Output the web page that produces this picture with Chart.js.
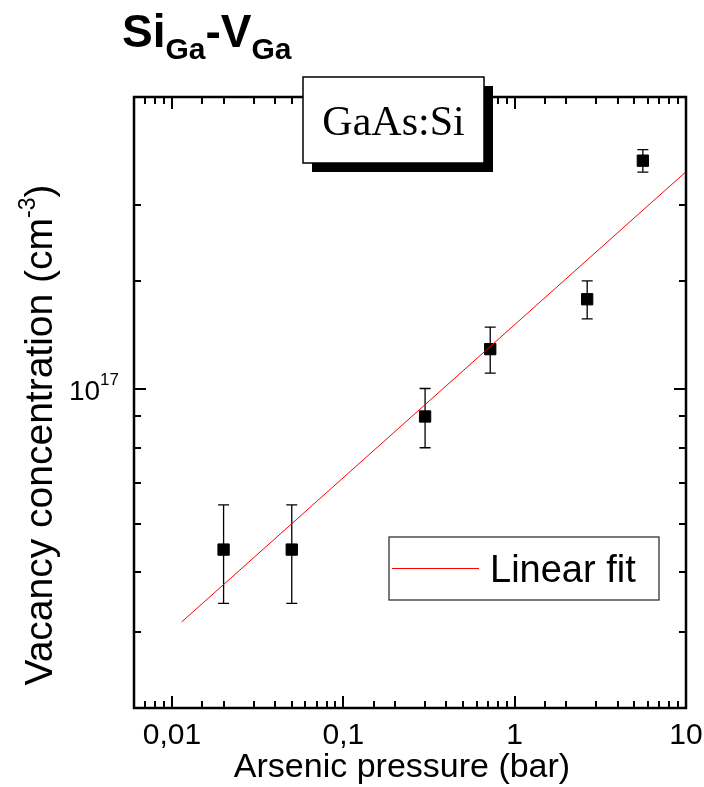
<!DOCTYPE html>
<html>
<head>
<meta charset="utf-8">
<title>SiGa-VGa</title>
<script src="https://cdn.jsdelivr.net/npm/chart.js@4.4.1/dist/chart.umd.min.js"></script>
<style>
  html, body { margin: 0; padding: 0; background: #fff; }
  canvas { display: block; }
</style>
</head>
<body>
<canvas id="vacancyChart" width="704" height="787"></canvas>
<script>
// measured points: arsenic pressure (bar) vs vacancy concentration (cm^-3)
const pressure = [0.02, 0.05, 0.3, 0.72, 2.65, 5.6];
const vacancies = [5.45e16, 5.45e16, 9.0e16, 1.16e17, 1.40e17, 2.36e17];
const vacancyErr = [1.0e16, 1.0e16, 1.0e16, 1.0e16, 1.0e16, 1.0e16];

// linear fit (straight line on log-log axes), end points
const fitPressure = [0.0114, 10];
const fitVacancies = [4.15e16, 2.264e17];

// axis ranges and labelled ticks
const xRange = [0.006, 10];
const yRange = [3e16, 3e17];
const xTickValues = [0.01, 0.1, 1, 10];
const xTickLabels = ['0,01', '0,1', '1', '10'];
const yTickValues = [1e17];
const yTickBase = ['10'];
const yTickExp = ['17'];

const SANS = '"Liberation Sans", Arial, sans-serif';
const SERIF = '"Liberation Serif", "Times New Roman", serif';

function isDecade(v) {
    const l = Math.log10(v);
    return Math.abs(l - Math.round(l)) < 1e-6;
}

const errorBars = {
    id: 'errorBars',
    beforeDatasetsDraw(chart) {
        const ctx = chart.ctx;
        const x = chart.scales.x, y = chart.scales.y;
        ctx.save();
        ctx.strokeStyle = '#000';
        ctx.lineWidth = 1.3;
        pressure.forEach(function (p, i) {
            const px = x.getPixelForValue(p);
            const top = y.getPixelForValue(vacancies[i] + vacancyErr[i]);
            const bot = y.getPixelForValue(vacancies[i] - vacancyErr[i]);
            ctx.beginPath();
            ctx.moveTo(px, top); ctx.lineTo(px, bot);
            ctx.moveTo(px - 5.5, top); ctx.lineTo(px + 5.5, top);
            ctx.moveTo(px - 5.5, bot); ctx.lineTo(px + 5.5, bot);
            ctx.stroke();
        });
        ctx.restore();
    }
};

const frame = {
    id: 'frame',
    afterDraw(chart) {
        const ctx = chart.ctx;
        const a = chart.chartArea;
        const x = chart.scales.x, y = chart.scales.y;
        ctx.save();

        // inward ticks on all four sides
        ctx.strokeStyle = '#000';
        ctx.lineWidth = 2;
        ctx.beginPath();
        x.ticks.forEach(function (t) {
            if (t.value <= xRange[0] || t.value >= xRange[1]) return;
            const px = Math.round(x.getPixelForValue(t.value));
            const len = isDecade(t.value) ? 12 : 7;
            ctx.moveTo(px, a.bottom); ctx.lineTo(px, a.bottom - len);
            ctx.moveTo(px, a.top); ctx.lineTo(px, a.top + len);
        });
        y.ticks.forEach(function (t) {
            if (t.value <= yRange[0] || t.value >= yRange[1]) return;
            const py = Math.round(y.getPixelForValue(t.value));
            const len = isDecade(t.value) ? 12 : 7;
            ctx.moveTo(a.left, py); ctx.lineTo(a.left + len, py);
            ctx.moveTo(a.right, py); ctx.lineTo(a.right - len, py);
        });
        ctx.stroke();

        // frame
        ctx.lineWidth = 2.5;
        ctx.strokeRect(a.left, a.top, a.right - a.left, a.bottom - a.top);

        // tick labels
        ctx.fillStyle = '#000';
        ctx.textBaseline = 'alphabetic';
        ctx.textAlign = 'center';
        ctx.font = '30px ' + SANS;
        xTickValues.forEach(function (v, i) {
            ctx.fillText(xTickLabels[i], x.getPixelForValue(v), 744);
        });
        yTickValues.forEach(function (v, i) {
            const py = y.getPixelForValue(v);
            ctx.textAlign = 'right';
            ctx.font = '17px ' + SANS;
            ctx.fillText(yTickExp[i], a.left - 15, py - 4);
            const ew = ctx.measureText(yTickExp[i]).width;
            ctx.font = '28px ' + SANS;
            ctx.fillText(yTickBase[i], a.left - 15 - ew, py + 11);
        });

        // axis titles
        ctx.textAlign = 'center';
        ctx.font = '34px ' + SANS;
        ctx.fillText('Arsenic pressure (bar)', 402, 777);

        ctx.save();
        ctx.translate(52, 435);
        ctx.rotate(-Math.PI / 2);
        ctx.textAlign = 'left';
        ctx.font = '39px ' + SANS;
        const main = 'Vacancy concentration (cm';
        const w1 = ctx.measureText(main).width;
        const w3 = ctx.measureText(')').width;
        ctx.font = '23px ' + SANS;
        const w2 = ctx.measureText('-3').width;
        let sx = -(w1 + w2 + w3) / 2;
        ctx.font = '39px ' + SANS;
        ctx.fillText(main, sx, 0);
        ctx.font = '23px ' + SANS;
        ctx.fillText('-3', sx + w1, -17);
        ctx.font = '39px ' + SANS;
        ctx.fillText(')', sx + w1 + w2, 0);
        ctx.restore();

        // title Si_Ga - V_Ga
        ctx.textAlign = 'left';
        let tx = 122;
        const parts = [['Si', 46, 47], ['Ga', 30, 59], ['-V', 46, 47], ['Ga', 30, 59]];
        parts.forEach(function (p) {
            ctx.font = 'bold ' + p[1] + 'px ' + SANS;
            ctx.fillText(p[0], tx, p[2]);
            tx += ctx.measureText(p[0]).width;
        });

        // GaAs:Si label box with shadow
        ctx.fillStyle = '#000';
        ctx.fillRect(312, 86, 181, 86);
        ctx.fillStyle = '#fff';
        ctx.fillRect(303, 77, 181, 86);
        ctx.lineWidth = 1.5;
        ctx.strokeStyle = '#000';
        ctx.strokeRect(303, 77, 181, 86);
        ctx.fillStyle = '#000';
        ctx.textAlign = 'center';
        ctx.font = '42px ' + SERIF;
        ctx.fillText('GaAs:Si', 393.5, 135);

        // legend box
        ctx.fillStyle = '#fff';
        ctx.fillRect(389, 537, 270, 63);
        ctx.strokeStyle = '#333';
        ctx.lineWidth = 1.3;
        ctx.strokeRect(389, 537, 270, 63);
        ctx.strokeStyle = '#ff0000';
        ctx.lineWidth = 1;
        ctx.beginPath();
        ctx.moveTo(392, 568.5); ctx.lineTo(479, 568.5);
        ctx.stroke();
        ctx.fillStyle = '#000';
        ctx.textAlign = 'left';
        ctx.font = '38px ' + SANS;
        ctx.fillText(chart.data.datasets[0].label, 490, 582);

        ctx.restore();
    }
};

document.addEventListener('DOMContentLoaded', function () {
    const ctx = document.getElementById('vacancyChart').getContext('2d');
    new Chart(ctx, {
        type: 'scatter',
        data: {
            datasets: [{
                label: 'Linear fit',
                data: fitPressure.map(function (p, i) { return { x: p, y: fitVacancies[i] }; }),
                showLine: true,
                borderColor: '#ff0000',
                borderWidth: 1,
                pointRadius: 0,
                fill: false
            }, {
                label: 'GaAs:Si',
                data: pressure.map(function (p, i) { return { x: p, y: vacancies[i] }; }),
                showLine: false,
                pointStyle: 'rect',
                pointRadius: 8,
                backgroundColor: '#000',
                borderColor: '#000',
                borderWidth: 1
            }]
        },
        options: {
            responsive: false,
            animation: false,
            layout: { padding: { left: 134, right: 18, top: 97, bottom: 79 } },
            plugins: {
                legend: { display: false },
                tooltip: { enabled: false }
            },
            scales: {
                x: {
                    type: 'logarithmic',
                    min: xRange[0],
                    max: xRange[1],
                    display: false,
                    ticks: { autoSkip: false }
                },
                y: {
                    type: 'logarithmic',
                    min: yRange[0],
                    max: yRange[1],
                    display: false,
                    ticks: { autoSkip: false }
                }
            }
        },
        plugins: [errorBars, frame]
    });
});
</script>
</body>
</html>
